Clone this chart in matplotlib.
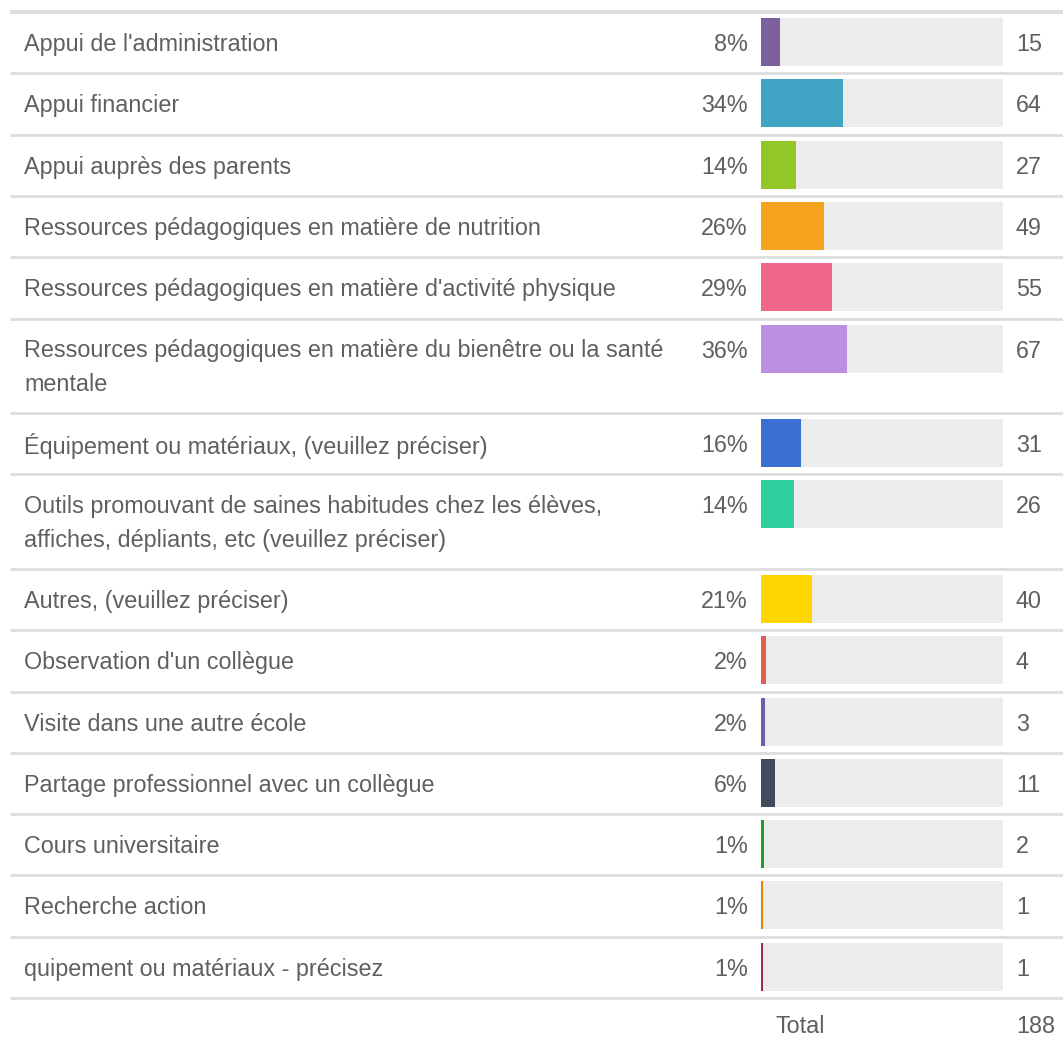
import matplotlib.pyplot as plt

labels = [
    "Appui de l'administration",
    "Appui financier",
    "Appui auprès des parents",
    "Ressources pédagogiques en matière de nutrition",
    "Ressources pédagogiques en matière d'activité physique",
    "Ressources pédagogiques en matière du bienêtre ou la santé\nmentale",
    "Équipement ou matériaux, (veuillez préciser)",
    "Outils promouvant de saines habitudes chez les élèves,\naffiches, dépliants, etc (veuillez préciser)",
    "Autres, (veuillez préciser)",
    "Observation d'un collègue",
    "Visite dans une autre école",
    "Partage professionnel avec un collègue",
    "Cours universitaire",
    "Recherche action",
    "quipement ou matériaux - précisez",
]
counts = [15, 64, 27, 49, 55, 67, 31, 26, 40, 4, 3, 11, 2, 1, 1]
pct_labels = ["8%", "34%", "14%", "26%", "29%", "36%", "16%", "14%",
              "21%", "2%", "2%", "6%", "1%", "1%", "1%"]
total = 188
colors = ["#7c619e", "#40a4c4", "#93c728", "#f5a31c", "#f0658a", "#bc8fe0",
          "#3b6fd4", "#2ecf9e", "#fdd600", "#e0604e", "#6462a8", "#434a5e",
          "#1e9e2e", "#e57e0a", "#a02a52"]

W, H = 1063, 1038
fig = plt.figure(figsize=(W / 100, H / 100), dpi=100)
ax = fig.add_axes([0, 0, 1, 1])
ax.set_xlim(0, W)
ax.set_ylim(H, 0)
ax.axis("off")

txt = "#5f5f5f"
font = dict(family=["Liberation Sans", "DejaVu Sans"], fontsize=16.8, color=txt)

row_h = 61.3
line_h = 33.3
bar_left, bar_full = 761, 242

y = 12
ax.plot([10, W], [y, y], color="#dddddd", lw=3, solid_capstyle="butt")
for lab, c, p, col in zip(labels, counts, pct_labels, colors):
    lines = lab.split("\n")
    h = row_h + line_h * (len(lines) - 1)
    cy = y + 30
    for i, ln in enumerate(lines):
        ax.text(24, cy + i * line_h, ln, ha="left", va="center_baseline", **font)
    ax.text(748, cy, p, ha="right", va="center_baseline", **font)
    ax.text(1016, cy, str(c), ha="left", va="center_baseline", **font)
    ax.barh(cy, bar_full, left=bar_left, height=48, color="#ececec")
    w = max(c / total * bar_full, 2)
    ax.barh(cy, w, left=bar_left, height=48, color=col)
    y += h
    ax.plot([10, W], [y, y], color="#dddddd", lw=2, solid_capstyle="butt")

ax.text(800, y + 26, "Total", ha="center", va="center_baseline", **font)
ax.text(1016, y + 26, str(total), ha="left", va="center_baseline", **font)

fig.savefig("out.png", dpi=100)
